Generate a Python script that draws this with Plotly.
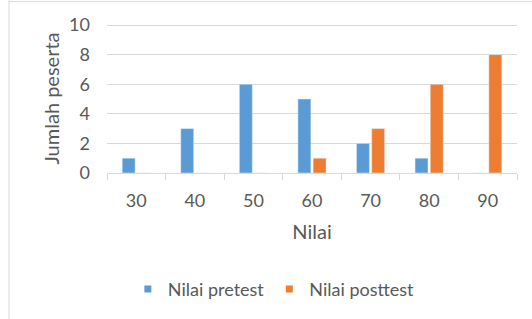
import plotly.graph_objects as go

categories = ["30", "40", "50", "60", "70", "80", "90"]
pretest = [1, 3, 6, 5, 2, 1, 0]
posttest = [0, 0, 0, 1, 3, 6, 8]
y_ticks = [0, 2, 4, 6, 8, 10]
series_names = ["Nilai pretest", "Nilai posttest"]
colors = ["#5B9BD5", "#ED7D31"]

FONT = "Lato, Open Sans, sans-serif"
TXT = "#595959"

fig = go.Figure()
for name, vals, col in zip(series_names, [pretest, posttest], colors):
    fig.add_trace(go.Bar(x=categories, y=vals, name=name,
                         marker_color=col, showlegend=False))
# legend entries with small square swatches
for name, col in zip(series_names, colors):
    fig.add_trace(go.Scatter(x=[None], y=[None], mode="markers", name=name,
                             marker=dict(symbol="square", size=7, color=col)))

fig.update_layout(
    width=532, height=319,
    margin=dict(l=107, r=15, t=24, b=146, autoexpand=False),
    paper_bgcolor="white", plot_bgcolor="white",
    barmode="group", bargap=0.48, bargroupgap=0.15,
    font=dict(family=FONT, color=TXT, size=18),
    showlegend=True,
    legend=dict(orientation="h", x=0.407, xanchor="center", y=-0.78,
                yanchor="middle", font=dict(size=18, color=TXT),
                itemwidth=30, traceorder="normal"),
    xaxis=dict(
        type="category",
        showline=True, linecolor="#d9d9d9", linewidth=1,
        ticks="outside", ticklen=6, tickcolor="#d9d9d9",
        tickson="boundaries", showgrid=False,
        tickfont=dict(size=18, color=TXT),
        ticklabelstandoff=11,
        title=dict(text="Nilai", font=dict(size=20, color=TXT), standoff=15),
    ),
    yaxis=dict(
        range=[0, 10.07], tickvals=y_ticks,
        showgrid=True, gridcolor="#d9d9d9", gridwidth=1,
        zeroline=False, showline=False, ticks="",
        tickfont=dict(size=18, color=TXT),
        ticklabelstandoff=16,
        title=dict(text="Jumlah peserta", font=dict(size=20, color=TXT), standoff=4),
    ),
    shapes=[
        dict(type="line", xref="paper", yref="paper",
             x0=(9 - 107) / 410, x1=(9 - 107) / 410, y0=1.16, y1=-1.2,
             line=dict(color="#d9d9d9", width=1)),
        dict(type="line", xref="paper", yref="paper",
             x0=(9 - 107) / 410, x1=1.1, y0=1.15, y1=1.15,
             line=dict(color="#d9d9d9", width=1)),
    ],
)

fig.write_html("out.html", config={"displayModeBar": False},
               post_script="document.body.style.margin='0';")
